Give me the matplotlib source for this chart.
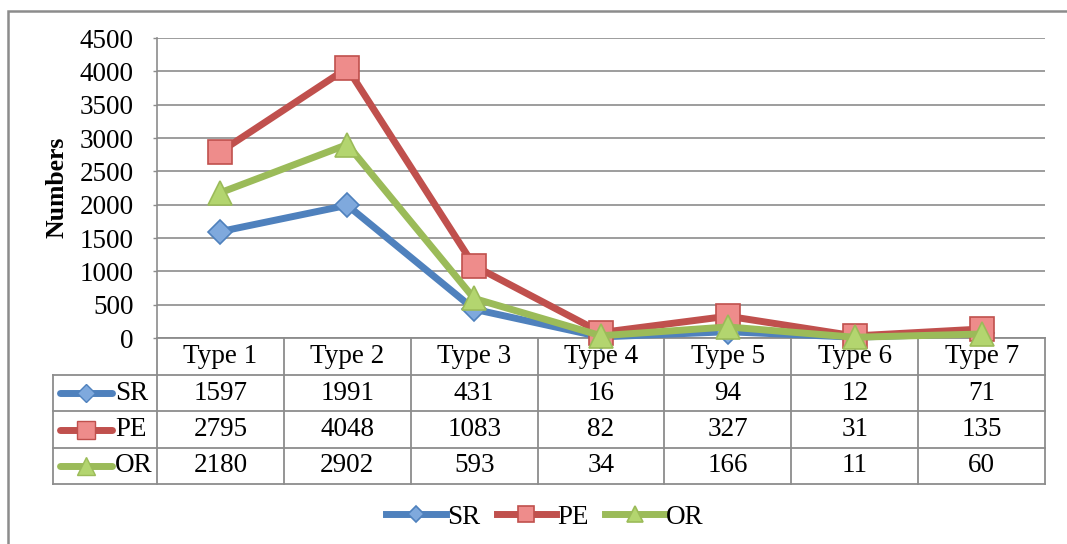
import matplotlib
matplotlib.use("Agg")
import matplotlib.pyplot as plt
from matplotlib.lines import Line2D
from matplotlib.patches import Rectangle

categories = ["Type 1", "Type 2", "Type 3", "Type 4", "Type 5", "Type 6", "Type 7"]
series_names = ["SR", "PE", "OR"]
sr = [1597, 1991, 431, 16, 94, 12, 71]
pe = [2795, 4048, 1083, 82, 327, 31, 135]
orr = [2180, 2902, 593, 34, 166, 11, 60]
y_ticks = [0, 500, 1000, 1500, 2000, 2500, 3000, 3500, 4000, 4500]

series = [sr, pe, orr]
line_colors = ["#4F81BD", "#C0504D", "#9BBB59"]
face_colors = ["#7FA9DD", "#EE8C8B", "#B3D56F"]
markers = ["D", "s", "^"]
msizes = [12, 17, 17]

plt.rcParams["font.family"] = ["Liberation Serif", "DejaVu Serif"]

W, H = 1067, 544
fig = plt.figure(figsize=(W / 100, H / 100), dpi=100)

# outer chart border
fig.patches.append(Rectangle((8 / W, -0.05), 1.1, (H - 11) / H + 0.05,
                             transform=fig.transFigure, fill=False,
                             edgecolor="#8C8C8C", linewidth=1.8))

left, right, top, bottom = 157, 1045, 38, 338
ax = fig.add_axes([left / W, 1 - bottom / H, (right - left) / W, (bottom - top) / H])

x = list(range(len(categories)))
handles = []
for vals, name, lc, fc, m, ms in zip(series, series_names, line_colors, face_colors, markers, msizes):
    h, = ax.plot(x, vals, color=lc, linewidth=5, marker=m, markersize=ms,
                 markerfacecolor=fc, markeredgecolor=lc, markeredgewidth=1.2,
                 label=name, clip_on=False, zorder=3)
    handles.append(h)

ax.set_xlim(-0.5, len(categories) - 0.5)
ax.set_ylim(0, 4500)
ax.set_yticks(y_ticks)
ax.set_yticklabels([str(t) for t in y_ticks], fontsize=19.5)
ax.tick_params(axis="y", length=3, width=1, color="#8C8C8C", pad=14)
ax.set_xticks([])
ax.grid(axis="y", color="#8C8C8C", linewidth=1.2)
ax.set_axisbelow(True)
for s in ["top", "right", "bottom"]:
    ax.spines[s].set_visible(False)
ax.spines["left"].set_color("#8C8C8C")
ax.spines["left"].set_linewidth(1.2)
ax.set_ylabel("Numbers", fontsize=18.5, fontweight="bold")
ax.yaxis.set_label_coords(-(left - 68) / (right - left), (bottom - 187) / (bottom - top))

# data table
ax_h = bottom - top
ax_w = right - left
row_h = [37, 36, 37, 36]
col_w = ax_w / len(categories)
gray = "#8C8C8C"
fs_tab = 19.5

def ay(py):
    return (bottom - py) / ax_h

def axx(px):
    return (px - left) / ax_w

y_edges = [bottom]
for r in row_h:
    y_edges.append(y_edges[-1] + r)

kw = dict(transform=ax.transAxes, color=gray, linewidth=1.3, clip_on=False)
ax.add_line(Line2D([0, 1], [ay(y_edges[0])] * 2, **kw))
for ye in y_edges[1:]:
    ax.add_line(Line2D([axx(53), 1], [ay(ye)] * 2, **kw))
ax.add_line(Line2D([axx(53)] * 2, [ay(y_edges[1]), ay(y_edges[-1])], **kw))
for i in range(len(categories) + 1):
    xp = left + i * col_w
    ax.add_line(Line2D([axx(xp)] * 2, [ay(y_edges[0]), ay(y_edges[-1])], **kw))

for i, c in enumerate(categories):
    ax.text(axx(left + (i + 0.5) * col_w), ay((y_edges[0] + y_edges[1]) / 2), c,
            transform=ax.transAxes, ha="center", va="center", fontsize=fs_tab)

for r, (vals, name, lc, fc, m, ms) in enumerate(zip(series, series_names, line_colors, face_colors, markers, msizes)):
    yc = ay((y_edges[r + 1] + y_edges[r + 2]) / 2)
    ax.add_line(Line2D([axx(60), axx(112)], [yc, yc], transform=ax.transAxes,
                       color=lc, linewidth=5, solid_capstyle="round", clip_on=False))
    ax.add_line(Line2D([axx(86)], [yc], transform=ax.transAxes, marker=m,
                       markersize=ms * 0.75, markerfacecolor=fc, markeredgecolor=lc,
                       linestyle="none", clip_on=False))
    ax.text(axx(115), yc, name, transform=ax.transAxes, ha="left", va="center", fontsize=fs_tab)
    for i, v in enumerate(vals):
        ax.text(axx(left + (i + 0.5) * col_w), yc, str(v), transform=ax.transAxes,
                ha="center", va="center", fontsize=fs_tab)

leg = fig.legend(handles=handles, labels=series_names, loc="center",
                 bbox_to_anchor=(545 / W, 1 - 517 / H), ncol=3, frameon=False,
                 fontsize=fs_tab, handlelength=2.2, handletextpad=0.05, columnspacing=0.6,
                 markerscale=0.7)

fig.savefig("out.png", dpi=100)
